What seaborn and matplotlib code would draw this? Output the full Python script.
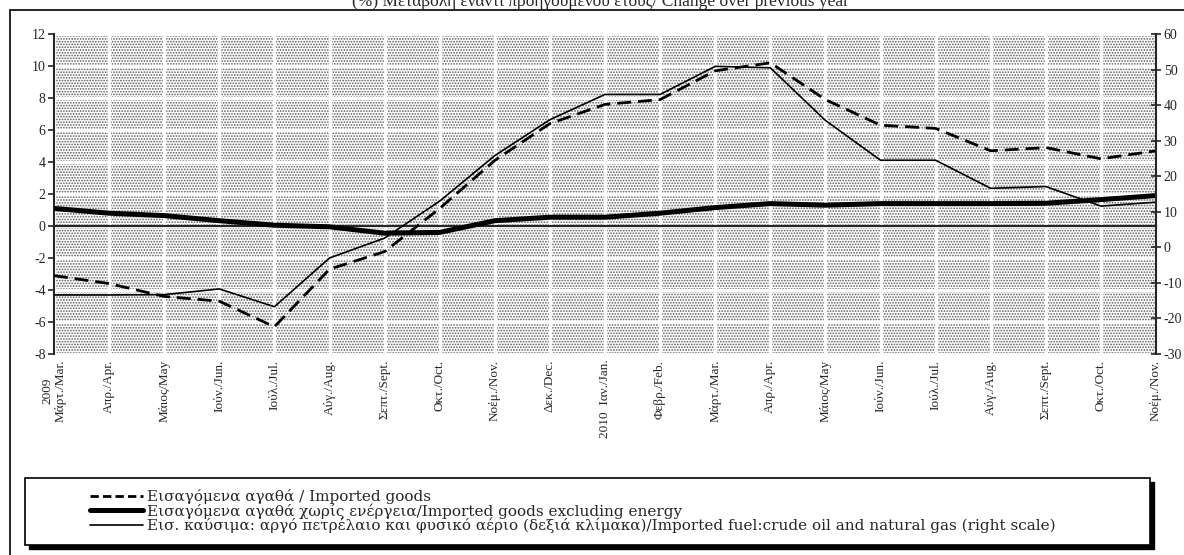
import matplotlib
matplotlib.use("Agg")
import matplotlib.pyplot as plt
import matplotlib.patches as mpatches
from matplotlib.lines import Line2D
import seaborn as sns
import pandas as pd

# Month labels (Mar 2009 - Nov 2010)
months = [
    "2009\nΜάρτ./Mar.", "Απρ./Apr.", "Μάιος/May", "Ιούν./Jun.", "Ιούλ./Jul.",
    "Αύγ./Aug.", "Σεπτ./Sept.", "Οκτ./Oct.", "Νοέμ./Nov.", "Δεκ./Dec.",
    "2010  Ιαν./Jan.", "Φεβρ./Feb.", "Μάρτ./Mar.", "Απρ./Apr.", "Μάιος/May",
    "Ιούν./Jun.", "Ιούλ./Jul.", "Αύγ./Aug.", "Σεπτ./Sept.", "Οκτ./Oct.", "Νοέμ./Nov.",
]

# left scale
imported_goods = [-3.1, -3.6, -4.4, -4.7, -6.3, -2.7, -1.6, 1.1, 4.1, 6.4,
                  7.6, 7.9, 9.7, 10.2, 7.9, 6.3, 6.1, 4.7, 4.9, 4.2, 4.7]
goods_ex_energy = [1.1, 0.8, 0.65, 0.33, 0.05, -0.05, -0.45, -0.4, 0.33, 0.55,
                   0.55, 0.8, 1.15, 1.4, 1.3, 1.4, 1.4, 1.4, 1.42, 1.65, 1.9]
# right scale
fuel = [-13.4, -13.4, -13.3, -11.7, -16.7, -3.0, 2.6, 13.0, 25.8, 35.9,
        43.0, 43.0, 50.9, 50.5, 35.7, 24.5, 24.5, 16.6, 17.1, 11.6, 12.7]

labels = [
    "Εισαγόμενα αγαθά / Imported goods",
    "Εισαγόμενα αγαθά χωρίς ενέργεια/Imported goods excluding energy",
    "Εισ. καύσιμα: αργό πετρέλαιο και φυσικό αέριο (δεξιά κλίμακα)/Imported fuel:crude oil and natural gas (right scale)",
]
title = "(%) Μεταβολή έναντι προηγούμενου έτους/ Change over previous year"

df = pd.DataFrame({"pos": range(len(months)), "goods": imported_goods,
                   "exen": goods_ex_energy, "fuel": fuel})

sns.set_style("white")
plt.rcParams["font.family"] = ["Liberation Serif", "DejaVu Serif"]
plt.rcParams["axes.unicode_minus"] = False
plt.rcParams["hatch.color"] = "#5e5e5e"
plt.rcParams["hatch.linewidth"] = 0.85

W, H = 1184, 555
fig = plt.figure(figsize=(W / 100, H / 100), dpi=100)
ax = fig.add_axes([54 / W, 1 - 354 / H, (1156 - 54) / W, (354 - 34) / H])

# dotted background
ax.patch.set_facecolor("white")
ax.patch.set_hatch("......")
ax.patch.set_edgecolor("#5e5e5e")
ax.patch.set_linewidth(0)

ax.set_axisbelow(True)
ax.grid(True, color="white", linewidth=2.4)

sns.lineplot(data=df, x="pos", y="goods", ax=ax, color="black", linewidth=2,
             linestyle=(0, (5, 2.5)), zorder=3)
sns.lineplot(data=df, x="pos", y="exen", ax=ax, color="black", linewidth=3.6,
             zorder=4)

ax2 = ax.twinx()
sns.lineplot(data=df, x="pos", y="fuel", ax=ax2, color="black", linewidth=1.2)

ax.set_xlim(0, len(months) - 1)
ax.set_ylim(-8, 12)
ax.set_yticks(range(-8, 13, 2))
ax2.set_ylim(-30, 60)
ax2.set_yticks(range(-30, 61, 10))

# category axis crosses at zero; labels stay at the bottom
ax.spines["bottom"].set_position(("data", 0))
ax.spines["bottom"].set_linewidth(1.6)
ax.tick_params(axis="x", direction="out", length=4, width=1.5, labelbottom=False)

ax2.xaxis.set_visible(True)
ax2.set_xticks(range(len(months)))
ax2.set_xticklabels(months, rotation=90, ha="center", va="top",
                    multialignment="center", fontsize=9.5)
ax2.tick_params(axis="x", length=0, pad=4, labelbottom=True)

ax.tick_params(axis="y", labelsize=10, direction="out", length=4, width=1.2, pad=2)
ax2.tick_params(axis="y", labelsize=10, direction="inout", length=7, width=1.2, pad=2)
for a in (ax, ax2):
    a.set_xlabel("")
    a.set_ylabel("")
    a.spines["top"].set_visible(False)
ax2.spines["bottom"].set_visible(False)
ax.spines["right"].set_visible(False)
ax2.spines["left"].set_visible(False)
ax.spines["left"].set_linewidth(1.5)
ax2.spines["right"].set_linewidth(1.5)

# outer frame
fig.add_artist(Line2D([10 / W, 1], [1 - 10 / H, 1 - 10 / H], color="black", lw=1.2))
fig.add_artist(Line2D([10 / W, 10 / W], [0, 1 - 10 / H], color="black", lw=1.2))

fig.text(600 / W, 1 - 2 / H, title, ha="center", va="center", fontsize=12.5)

# legend box with shadow
bx0, by0, bx1, by1 = 25, 478, 1150, 545
fig.add_artist(mpatches.Rectangle((bx0 / W + 4 / W, 1 - (by1 + 4) / H), (bx1 - bx0) / W,
                                  (by1 - by0) / H, transform=fig.transFigure,
                                  facecolor="black", edgecolor="black"))
fig.add_artist(mpatches.Rectangle((bx0 / W, 1 - by1 / H), (bx1 - bx0) / W,
                                  (by1 - by0) / H, transform=fig.transFigure,
                                  facecolor="white", edgecolor="black", lw=1.2))
handles = [
    Line2D([], [], color="black", lw=2, linestyle=(0, (3, 1.5))),
    Line2D([], [], color="black", lw=3.6),
    Line2D([], [], color="black", lw=1.2),
]
fig.legend(handles, labels, loc="upper left", bbox_to_anchor=(90 / W, 1 - 489 / H),
           frameon=False, prop={"family": "DejaVu Serif", "size": 11},
           handlelength=3.5, handletextpad=0.2,
           labelspacing=-0.06, borderpad=0, borderaxespad=0)

plt.savefig("out.png", dpi=100)
plt.close()
